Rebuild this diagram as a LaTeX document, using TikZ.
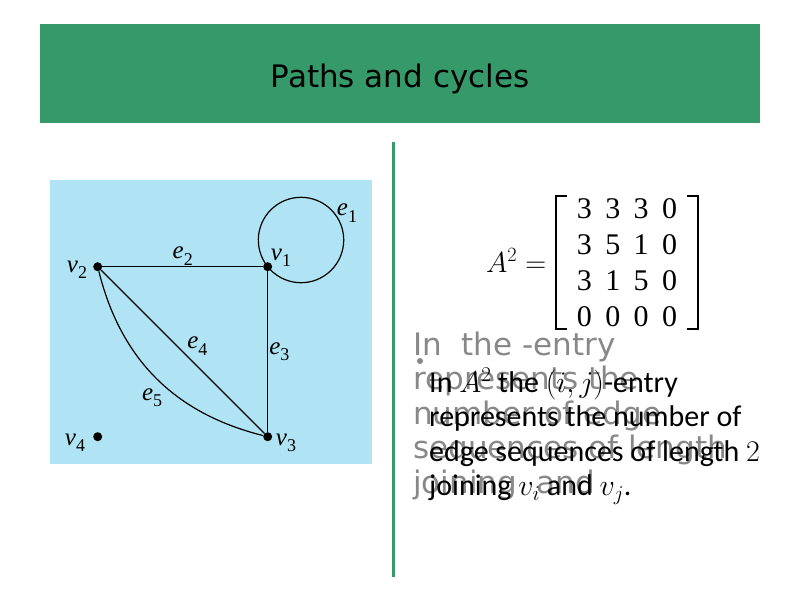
\documentclass[tikz,border=0pt]{standalone}
\usepackage{fix-cm}
\usepackage{amsmath}
\usepackage{fontspec}
\usepackage{tikz}
\usetikzlibrary{arrows}

\newfontfamily\headfont{DejaVu Sans}
\newfontfamily\notefont{Carlito}
\newfontfamily\graphfont{Liberation Serif}
\definecolor{slidegreen}{HTML}{36996A}
\definecolor{picblue}{HTML}{B0E4F5}
\definecolor{ghostgray}{HTML}{888888}
\newcommand{\sublab}[2]{\textit{#1}\raisebox{-0.25em}{\fontsize{18}{18}\selectfont #2}}

\begin{document}
\begin{tikzpicture}[x=1pt, y=-1pt, node distance=170pt,
    vertex/.style={circle, fill, inner sep=0pt, minimum size=9pt},
    lab/.style={font=\graphfont\fontsize{25}{25}\selectfont, inner sep=1pt},
    gline/.style={line width=1.2pt},
    bracket/.style={line width=2.2pt}]
    \useasboundingbox (0,0) rectangle (800,600);
    \fill[white] (0,0) rectangle (800,600);
    % header bar
    \fill[slidegreen] (40,24) rectangle (760,123);
    \node[anchor=base, font=\headfont\fontsize{31}{31}\selectfont] (title) at (400,87) {Paths and cycles};
    \draw[slidegreen, line width=3pt] (393.5,142) -- (393.5,577);
    % graph picture
    \fill[picblue] (50,180) rectangle (372,464);
    \node[vertex] (v2) at (97.7,266.7) {};
    \node[vertex, right of=v2] (v1) {};
    \node[vertex, below of=v1] (v3) {};
    \node[vertex, below of=v2] (v4) {};
    \draw[gline] (v1.center) arc[start angle=141.3, delta angle=-360, radius=42.7];
    \draw[gline] (v2) -- node[lab, above] (le2) {\sublab{e}{2}} (v1);
    \draw[gline] (v1) -- node[lab, right] (le3) {\sublab{e}{3}} (v3);
    \draw[gline] (v2) -- node[lab, above right, xshift=3pt, yshift=-5pt] (le4) {\sublab{e}{4}} (v3);
    \draw[gline] (v2) to[bend right=31] node[lab, below, xshift=-4pt, yshift=-9pt] (le5) {\sublab{e}{5}} (v3);
    \node[lab] (le1) at (347,213) {\sublab{e}{1}};
    \node[lab] (lv1) at (281,258) {\sublab{v}{1}};
    \node[lab] (lv2) at (77,270) {\sublab{v}{2}};
    \node[lab] (lv3) at (286,443) {\sublab{v}{3}};
    \node[lab] (lv4) at (75,443) {\sublab{v}{4}};
    % matrix and note
    \node[anchor=base west, inner sep=0pt, font=\fontsize{29}{29}\selectfont] (asq) at (486,272) {$A^2 =$};
    \node[inner sep=0pt, font=\graphfont\fontsize{30}{36}\selectfont] (mtx) at (627,265)
        {\setlength{\tabcolsep}{6.7pt}\begin{tabular}{@{}cccc@{}}
         3 & 3 & 3 & 0\\ 3 & 5 & 1 & 0\\ 3 & 1 & 5 & 0\\ 0 & 0 & 0 & 0
         \end{tabular}};
    \draw[bracket] (567,196) -- (556,196) -- (556,329) -- (567,329);
    \draw[bracket] (687,196) -- (698,196) -- (698,329) -- (687,329);
    \node[anchor=base west, align=left, inner sep=0pt, text=ghostgray,
          font=\headfont\fontsize{31}{34.5}\selectfont] (ghost) at (413,493)
        {In\ \ the -entry\\ represents the\\ number of edge\\ sequences of length\\ joining\ \ and};
    \node[circle, fill=ghostgray, inner sep=0pt, minimum size=6pt] (bullet) at (420,361) {};
    \node[anchor=base west, align=left, inner sep=0pt,
          font=\notefont\fontsize{30}{34.5}\selectfont] (note) at (429,495.5)
        {In $A^2$ the $(i,j)$-entry\\ represents the number of\\ edge sequences of length $2$\\ joining $v_i$ and $v_j$.};
\end{tikzpicture}
\end{document}
